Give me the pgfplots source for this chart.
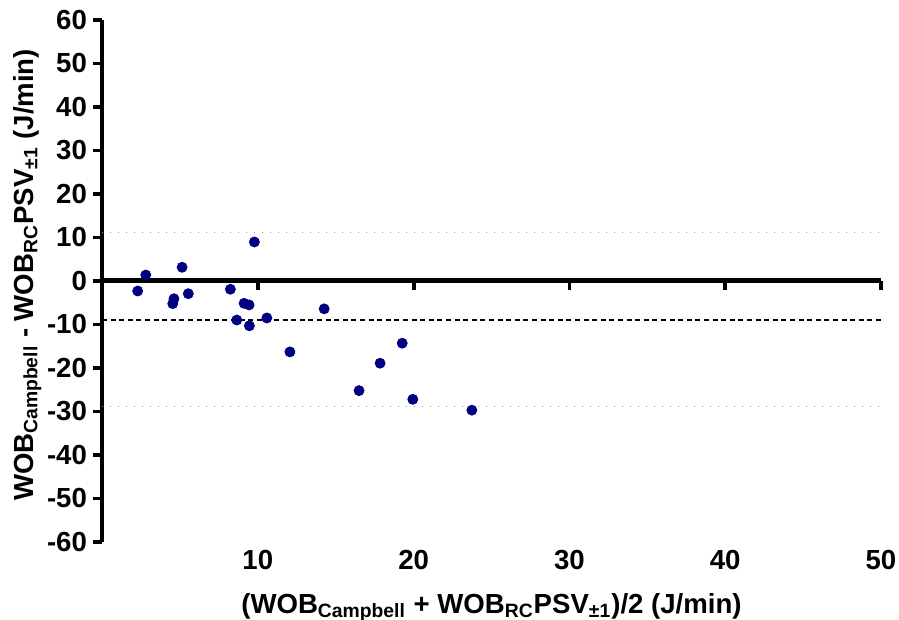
\documentclass[border=0pt]{standalone}
\usepackage{fontspec}
\setmainfont{Liberation Sans}
\usepackage{pgfplots}
\usepackage{pgfplotstable}
\pgfplotsset{compat=1.18}
\definecolor{navy}{RGB}{0,0,128}
\pgfplotstableread{
x y
2.29 -2.3
2.81 1.38
5.14 3.15
4.62 -4.07
4.54 -5.2
5.54 -2.92
8.24 -1.9
9.78 8.97
9.12 -5.13
9.44 -5.5
8.65 -8.97
9.46 -10.3
10.58 -8.5
14.26 -6.4
12.06 -16.3
16.5 -25.2
17.85 -18.9
19.27 -14.3
19.95 -27.2
23.74 -29.7
}\pts
\begin{document}
\begin{tikzpicture}
\begin{axis}[
  scale only axis, width=389.5pt, height=261pt,
  at={(0,0)}, anchor=south west,
  xmin=0, xmax=50, ymin=-60, ymax=60,
  axis y line=left, axis x line=bottom,
  x axis line style={draw=none},
  y axis line style={line width=2.2pt, -},
  xtick={10,20,30,40,50},
  ytick={-60,-50,...,60},
  xtick style={draw=none},
  ytick style={line width=1.7pt, black},
  tick align=outside,
  major tick length=4.5pt,
  /pgf/number format/assume math mode=true,
  tick label style={font=\fontsize{13.8}{15}\selectfont\bfseries},
  xticklabel style={yshift=4pt},
  yticklabel style={xshift=0.5pt},
  every axis y label/.style={at={(axis description cs:-0.096,0.5115)}, rotate=90, anchor=center, font=\fontsize{13.8}{15}\selectfont\bfseries},
  every axis x label/.style={at={(axis description cs:0.5,-0.125)}, anchor=center, font=\fontsize{13.8}{15}\selectfont\bfseries},
  xlabel={(WOB\textsubscript{Campbell} + WOB\textsubscript{RC}PSV\textsubscript{±1})/2 (J/min)},
  ylabel={WOB\textsubscript{Campbell} - WOB\textsubscript{RC}PSV\textsubscript{±1} (J/min)},
  clip=false,
]
\addplot[gray!80, line width=0.7pt, dash pattern=on 0.7pt off 3.3pt] coordinates {(0,11.1) (50,11.1)};
\addplot[gray!80, line width=0.7pt, dash pattern=on 0.7pt off 3.3pt] coordinates {(0,-28.9) (50,-28.9)};
\addplot[black, line width=1.1pt, dash pattern=on 2.5pt off 1.8pt] coordinates {(0,-8.9) (50,-8.9)};
\addplot[black, line width=2.5pt] coordinates {(0,0) (50,0)};
\addplot[black, line width=1.9pt, ycomb, no marks] coordinates {(10,-2) (20,-2) (30,-2) (40,-2) (50,-2)};
\addplot[only marks, mark=*, mark size=2.5pt, navy, mark options={draw=navy, fill=navy}] table {\pts};
\end{axis}
\pgfresetboundingbox
\path[use as bounding box] (-51pt,-39pt) rectangle (398.5pt,271pt);
\end{tikzpicture}
\end{document}
